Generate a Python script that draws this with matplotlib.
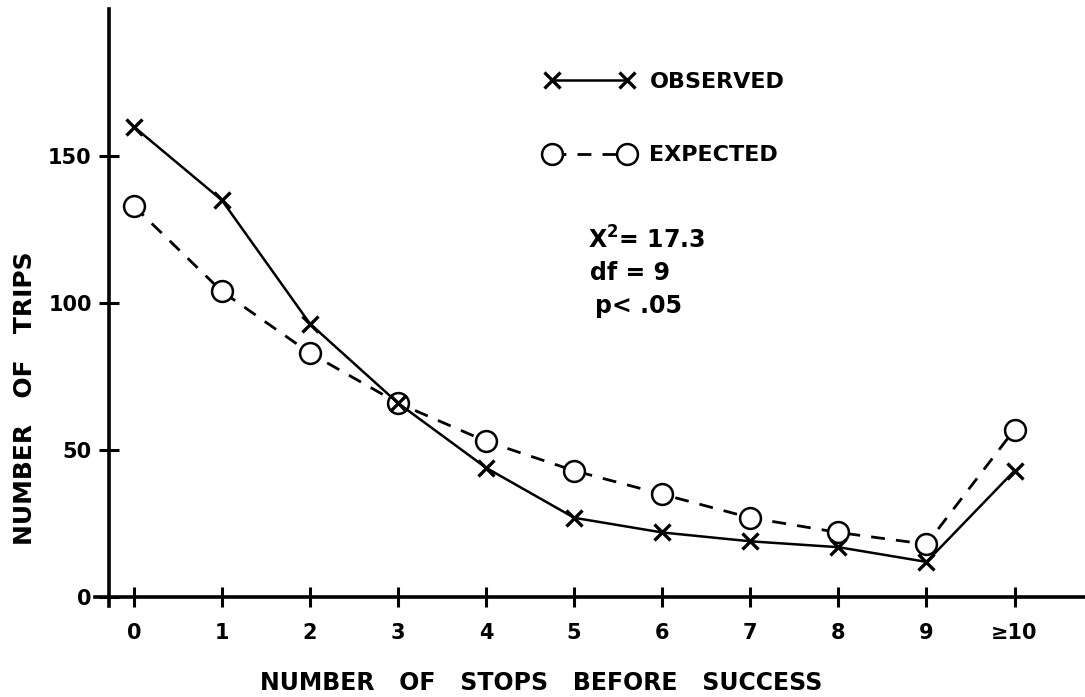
import numpy as np
import matplotlib
matplotlib.use('Agg')
import matplotlib.pyplot as plt

# values
stops = np.arange(11)
stop_labels = ['0', '1', '2', '3', '4', '5', '6', '7', '8', '9', '\u226510']
observed = [160, 135, 93, 66, 44, 27, 22, 19, 17, 12, 43]
expected = [133, 104, 83, 66, 53, 43, 35, 27, 22, 18, 57]
trip_ticks = [0, 50, 100, 150]

plt.rcParams['font.family'] = ['DejaVu Sans']
plt.rcParams['font.weight'] = 'bold'
plt.rcParams['mathtext.default'] = 'bf'

W, H = 1085, 697
fig = plt.figure(figsize=(W / 100, H / 100), dpi=100)
ax = fig.add_axes([95 / W, 91 / H, 1 - 95 / W, (688 - 91) / H])

ax.plot(stops, expected, color='black', lw=2.0, dashes=(5, 4),
        marker='o', ms=15, mfc='white', mec='black', mew=1.8,
        label='EXPECTED', zorder=2)
ax.plot(stops, observed, color='black', lw=1.8,
        marker='x', ms=11, mew=2.4, label='OBSERVED', zorder=3)

ax.set_xlim(-0.44, 10.8)
ax.set_ylim(-3, 200)

# axes drawn like the hand-lettered original
for side in ['top', 'right']:
  ax.spines[side].set_visible(False)
ax.spines['left'].set_position(('data', -0.28))
ax.spines['bottom'].set_position(('data', 0))
ax.spines['left'].set_linewidth(2.6)
ax.spines['bottom'].set_linewidth(2.6)

ax.set_xticks(stops)
ax.set_xticklabels(stop_labels)
ax.set_yticks(trip_ticks)
ax.tick_params(axis='x', direction='inout', length=15, width=2.2, pad=11,
               labelsize=15)
ax.tick_params(axis='y', direction='inout', length=15, width=2.2, pad=5,
               labelsize=15)

fig.text(541 / W, 1 - 683 / H, 'NUMBER   OF   STOPS   BEFORE   SUCCESS',
         ha='center', va='center', fontsize=17, fontweight='bold')
fig.text(25 / W, 1 - 398 / H, 'NUMBER   OF   TRIPS', rotation=90,
         ha='center', va='center', fontsize=18, fontweight='bold')

# legend with a marker at each end of the line
handles, labels = ax.get_legend_handles_labels()
ax.legend(handles[::-1], labels[::-1], numpoints=2, frameon=False,
          loc='upper left', bbox_to_anchor=(545 / W, 1 - 72 / H),
          bbox_transform=fig.transFigure, borderaxespad=0, borderpad=0,
          handlelength=4.0, handletextpad=0.7, labelspacing=2.4,
          prop={'size': 16, 'weight': 'bold'})

# chi-square annotation
fig.text(588 / W, 1 - 240 / H, 'X$^{2}$= 17.3', ha='left', va='center',
         fontsize=17, fontweight='bold')
fig.text(590 / W, 1 - 273 / H, 'df = 9', ha='left', va='center',
         fontsize=17, fontweight='bold')
fig.text(595 / W, 1 - 306 / H, 'p< .05', ha='left', va='center',
         fontsize=17, fontweight='bold')

fig.savefig('out.png', dpi=100)
